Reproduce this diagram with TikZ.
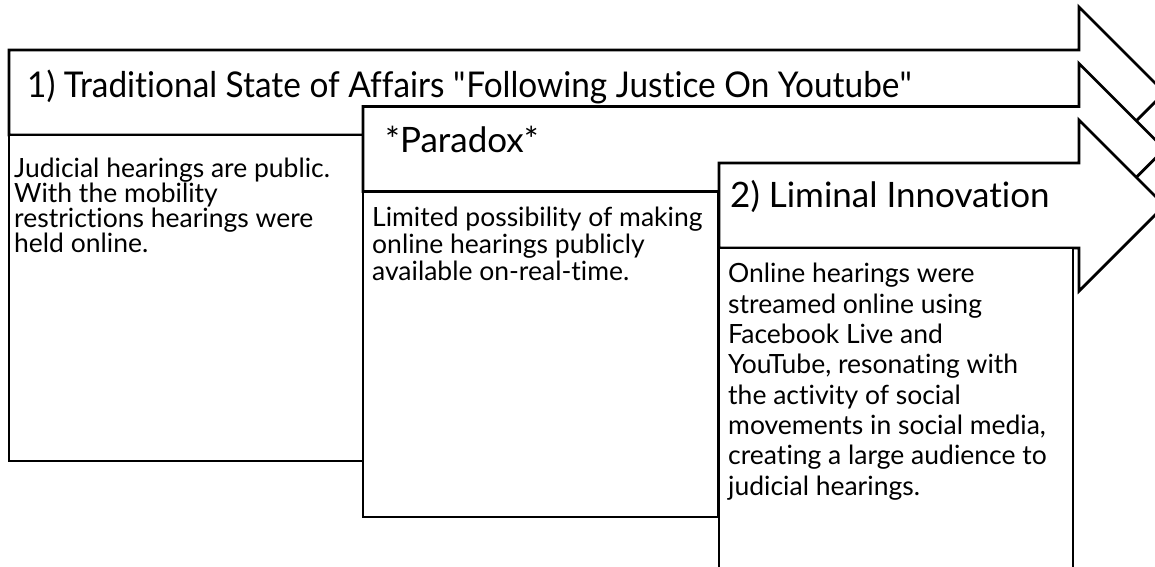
\documentclass[tikz,border=0pt]{standalone}
\usepackage{fontspec}
\setmainfont[Ligatures={TeX,NoCommon}]{Lato}
\newfontfamily\titlefont[FakeStretch=0.94,Ligatures={TeX,NoCommon}]{Lato}
\begin{document}
\begin{tikzpicture}[x=1pt,y=-1pt,
  outline/.style={draw=black, fill=white, line width=2.8pt, line join=miter},
  headtext/.style={anchor=base west, inner sep=0pt, font=\fontsize{#1}{#1}\selectfont},
  % base anchor of a multi-line node sits on its last line
  bodytext/.style={anchor=base west, inner sep=0pt, align=left,
    font=\fontsize{26.5}{#1}\selectfont}]
\useasboundingbox (0,0) rectangle (1155,566);
\clip (0,0) rectangle (1155,566);

% block arrow: left x, top y, bottom y; back of the head at x=1079, barbs 43 wide
\newcommand\blockarrow[3]{%
  \pgfmathsetmacro\mid{(#2+#3)/2}%
  \pgfmathsetmacro\tip{1079+(#3-#2)/2+43}%
  \draw[outline] (#1,#2) -- (1079,#2) -- (1079,#2-43) -- (\tip,\mid)
    -- (1079,#3+43) -- (1079,#3) -- (#1,#3) -- cycle;}

% stage 1
\blockarrow{9}{50}{135}
\node[headtext=35.5] (h1) at (27,97) {\titlefont 1) Traditional State of Affairs \textquotedbl Following Justice On Youtube\textquotedbl};
\draw[outline] (9,135) rectangle (363,461);
\node[bodytext=25] (b1) at (14,252) {Judicial hearings are public.\\With the mobility\\restrictions hearings were\\held online.};

% stage 2
\blockarrow{363}{106.5}{191.5}
\node[headtext=35] (h2) at (385,152) {*Paradox*};
\draw[outline] (363,191.5) rectangle (718,517);
\node[bodytext=27] (b2) at (372,280) {Limited possibility of making\\online hearings publicly\\available on-real-time.};

% stage 3
\blockarrow{719}{163}{248}
\node[headtext=35] (h3) at (730,207) {2) Liminal Innovation};
\draw[outline] (719,248) rectangle (1073,620);
\node[bodytext=30.3] (b3) at (728,495) {Online hearings were\\streamed online using\\Facebook Live and\\YouTube, resonating with\\the activity of social\\movements in social media,\\creating a large audience to\\judicial hearings.};
\end{tikzpicture}
\end{document}
